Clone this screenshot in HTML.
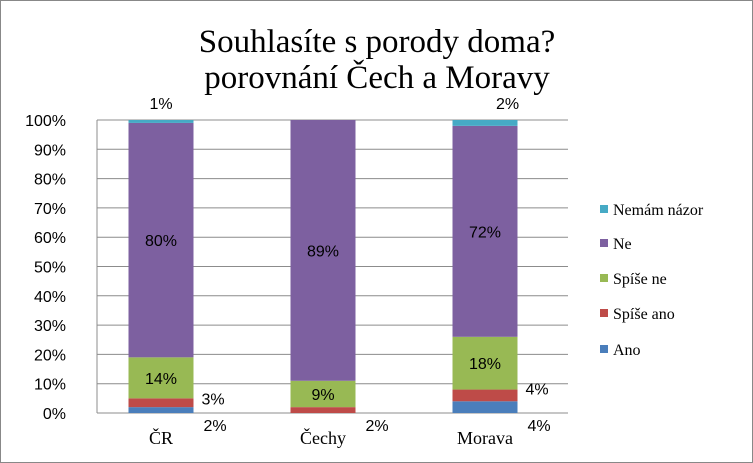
<!DOCTYPE html>
<html><head><meta charset="utf-8"><style>
body{margin:0;background:#fff}
svg{display:block}
text{font-family:"Liberation Sans",sans-serif}
</style></head><body>
<svg id="c" width="753" height="463">
<rect x="0.5" y="0.5" width="752" height="462" fill="#fff" stroke="#888"/>
<text x="377" y="52" text-anchor="middle" style="font-family:'Liberation Serif',serif" font-size="33">Souhlasíte s porody doma?</text>
<text x="377" y="88" text-anchor="middle" style="font-family:'Liberation Serif',serif" font-size="33">porovnání Čech a Moravy</text>
<g id="grid"></g><g id="bars"></g><g id="labels"></g><g id="legend"></g>
</svg>
<script>
const categories=["ČR","Čechy","Morava"];
const seriesNames=["Ano","Spíše ano","Spíše ne","Ne","Nemám názor"];
const ano=[2,0,4];
const spiseAno=[3,2,4];
const spiseNe=[14,9,18];
const ne=[80,89,72];
const nemam=[1,0,2];
const yTicks=["0%","10%","20%","30%","40%","50%","60%","70%","80%","90%","100%"];
const colors=["#4A7EBB","#BE4B48","#98B954","#7D60A0","#46AAC5"];
const series=[ano,spiseAno,spiseNe,ne,nemam];
const NS="http://www.w3.org/2000/svg";
const x0=97,x1=568,yb=413,yt=120;
const y=v=>yb-(yb-yt)*v/100;
const cx=i=>161+162*i;
const bw=65;
function mk(tag,attrs,parent,txt){const e=document.createElementNS(NS,tag);for(const k in attrs)e.setAttribute(k,attrs[k]);if(txt!==undefined)e.textContent=txt;parent.appendChild(e);return e;}
const grid=document.getElementById('grid'),bars=document.getElementById('bars'),labels=document.getElementById('labels'),legend=document.getElementById('legend');
yTicks.forEach((t,i)=>{
  const v=i*10;
  const l=mk('line',{x1:x0,x2:x1,y1:y(v),y2:y(v),stroke:'#8c8c8c','stroke-width':1},grid);
  
  
  const tx=mk('text',{x:66,y:y(v)+6,'text-anchor':'end','font-size':16},grid,t);
  
  
});
const ax=mk('line',{x1:x0,x2:x0,y1:yt,y2:yb,stroke:'#8c8c8c'},grid);


categories.forEach((c,i)=>{
  let acc=0,smallCount=0;
  series.forEach((s,k)=>{
    const v=s[i];
    if(v>0){
      const r=mk('rect',{x:cx(i)-bw/2,y:y(acc+v),width:bw,height:y(acc)-y(acc+v),fill:colors[k]},bars);
      
      
      let lx,ly,anchor='middle';
      if(v>=5){lx=cx(i);ly=(y(acc)+y(acc+v))/2+6;}
      else if(k===4){lx=cx(i)+(i===0?0:bw/2-10);ly=y(100)-11;}
      else if(smallCount===0){lx=cx(i)+bw/2+10;ly=yb+18;anchor='start';smallCount++;}
      else{lx=cx(i)+bw/2+8;ly=y(acc+v/2)+(i===0?3:0)-1;anchor='start';smallCount++;}
      const t=mk('text',{x:lx,y:ly,'text-anchor':anchor,'font-size':16},labels,v+'%');
      
      
    }
    acc+=v;
  });
  const t=mk('text',{x:cx(i),y:444,'text-anchor':'middle','font-size':18,style:"font-family:'Liberation Serif',serif"},labels,c);
  
  
});
const ax2=mk('line',{x1:x0,x2:x1,y1:yb,y2:yb,stroke:'#8c8c8c'},grid);


const legY=[350,314,279,244,210];
seriesNames.forEach((n,k)=>{
  const r=mk('rect',{x:600,y:legY[k]-5,width:8,height:8,fill:colors[k]},legend);
  
  
  const t=mk('text',{x:613,y:legY[k]+5,'font-size':16,style:"font-family:'Liberation Serif',serif"},legend,n);
  
  
});
</script>
</body></html>
